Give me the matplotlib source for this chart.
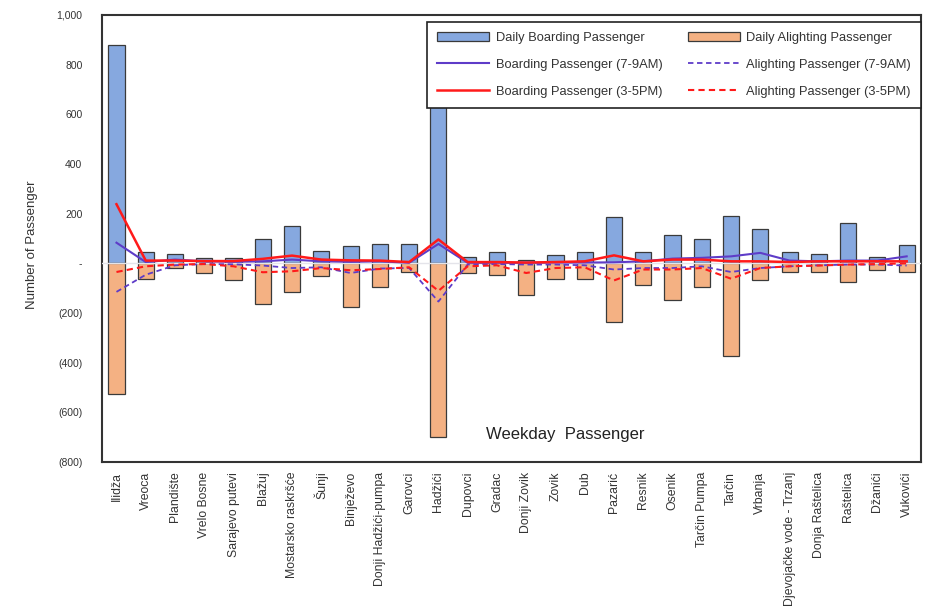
import matplotlib
matplotlib.use("Agg")
import matplotlib.pyplot as plt
from matplotlib.ticker import FuncFormatter, MultipleLocator
import numpy as np

plt.rcParams['font.family'] = ['Liberation Sans', 'DejaVu Sans']

stops = ["Ilidža", "Vreoca", "Plandište", "Vrelo Bosne", "Sarajevo putevi", "Blažuj",
         "Mostarsko raskršće", "Šunji", "Binježevo", "Donji Hadžići-pumpa", "Garovci",
         "Hadžići", "Dupovci", "Gradac", "Donji Zovik", "Zovik", "Dub", "Pazarić",
         "Resnik", "Osenik", "Tarčin Pumpa", "Tarčin", "Vrbanja",
         "Djevojačke vode - Trzanj", "Donja Raštelica", "Raštelica", "Džanići", "Vukovići"]

daily_boarding = [880, 45, 36, 20, 20, 97, 150, 48, 69, 79, 77, 632, 27, 45, 15, 34,
                  45, 187, 46, 112, 96, 189, 139, 47, 39, 162, 27, 74]
daily_alighting = [-527, -62, -20, -40, -68, -162, -115, -52, -175, -95, -34, -700, -40,
                   -47, -128, -63, -62, -237, -88, -148, -94, -372, -67, -36, -34, -76,
                   -28, -34]

boarding_am = [83, 5, 15, 8, 6, 8, 15, 8, 6, 8, 2, 78, 2, 2, 2, 3, 3, 4, 8, 19, 22, 28,
               42, 11, 8, 11, 11, 28]
alighting_am = [-115, -46, -8, -3, -4, -9, -19, -16, -39, -21, -19, -154, -5, -3, -5, -5,
                -8, -25, -19, -19, -12, -35, -19, -12, -8, -5, -5, -9]
boarding_pm = [238, 11, 11, 9, 9, 18, 31, 15, 12, 11, 5, 96, 5, 5, 3, 5, 8, 32, 8, 15,
               15, 8, 8, 5, 8, 8, 8, 8]
alighting_pm = [-35, -12, -5, -3, -12, -36, -32, -19, -28, -23, -16, -111, -12, -8, -39,
                -19, -16, -69, -25, -25, -19, -62, -19, -12, -9, -5, -3, 0]

blue = "#86A8DF"
orange = "#F4B183"
purple = "#5E3CC8"
red = "#FF1A1A"

fig = plt.figure(figsize=(9.43, 6.14), dpi=100)
ax = fig.add_axes([0.108, 0.2476, 0.869, 0.728])

x = np.arange(len(stops))
bar_b = ax.bar(x, daily_boarding, width=0.55, color=blue, edgecolor="#3a3a3a",
               linewidth=0.9, label="Daily Boarding Passenger", zorder=2)
bar_a = ax.bar(x, daily_alighting, width=0.55, color=orange, edgecolor="#3a3a3a",
               linewidth=0.9, label="Daily Alighting Passenger", zorder=2)
ax.axhline(0, color="#e4e4ea", linewidth=1.0, zorder=3)

ln_bam, = ax.plot(x, boarding_am, color=purple, linewidth=1.5,
                  label="Boarding Passenger (7-9AM)", zorder=4)
ln_aam, = ax.plot(x, alighting_am, color=purple, linewidth=1.3, linestyle=(0, (3, 2)),
                  label="Alighting Passenger (7-9AM)", zorder=4)
ln_bpm, = ax.plot(x, boarding_pm, color=red, linewidth=1.8,
                  label="Boarding Passenger (3-5PM)", zorder=5)
ln_apm, = ax.plot(x, alighting_pm, color=red, linewidth=1.5, linestyle=(0, (3, 2)),
                  label="Alighting Passenger (3-5PM)", zorder=5)

ax.set_xlim(-0.5, len(stops) - 0.5)
ax.set_ylim(-800, 1000)
ax.yaxis.set_major_locator(MultipleLocator(200))


def acct(v, pos):
    v = int(round(v))
    if v == 0:
        return "-"
    if v < 0:
        return "({:,})".format(-v)
    return "{:,}".format(v)


ax.yaxis.set_major_formatter(FuncFormatter(acct))
ax.set_xticks(x)
ax.set_xticklabels(stops, rotation=90, fontsize=8.8, color="#333333")
ax.tick_params(axis="y", labelsize=7.5, length=0, pad=14, labelcolor="#333333")
ax.tick_params(axis="x", length=0, pad=7)
for s in ax.spines.values():
    s.set_color("#333333")
    s.set_linewidth(1.5)

ax.set_ylabel("Number of Passenger", fontsize=9.5, color="#333333", labelpad=6)
ax.yaxis.set_label_coords(-0.078, 0.485)

ax.text(0.565, 0.062, "Weekday  Passenger", transform=ax.transAxes, ha="center",
        va="center", fontsize=12, color="#222222")

# legend laid out column by column: boarding items left, alighting items right
leg_handles = [bar_b, ln_bam, ln_bpm, bar_a, ln_aam, ln_apm]
leg = ax.legend(leg_handles, [h.get_label() for h in leg_handles], ncol=2,
                loc="upper right", bbox_to_anchor=(1.0, 0.985), borderaxespad=0,
                fontsize=9.3, frameon=True, fancybox=False, edgecolor="#222222",
                framealpha=1, handlelength=4.0, handleheight=0.7, labelspacing=1.15,
                columnspacing=2.0, borderpad=0.8, handletextpad=0.5)
leg.get_frame().set_linewidth(1.2)
for t in leg.get_texts():
    t.set_color("#333333")

fig.savefig("out.png", dpi=100)
